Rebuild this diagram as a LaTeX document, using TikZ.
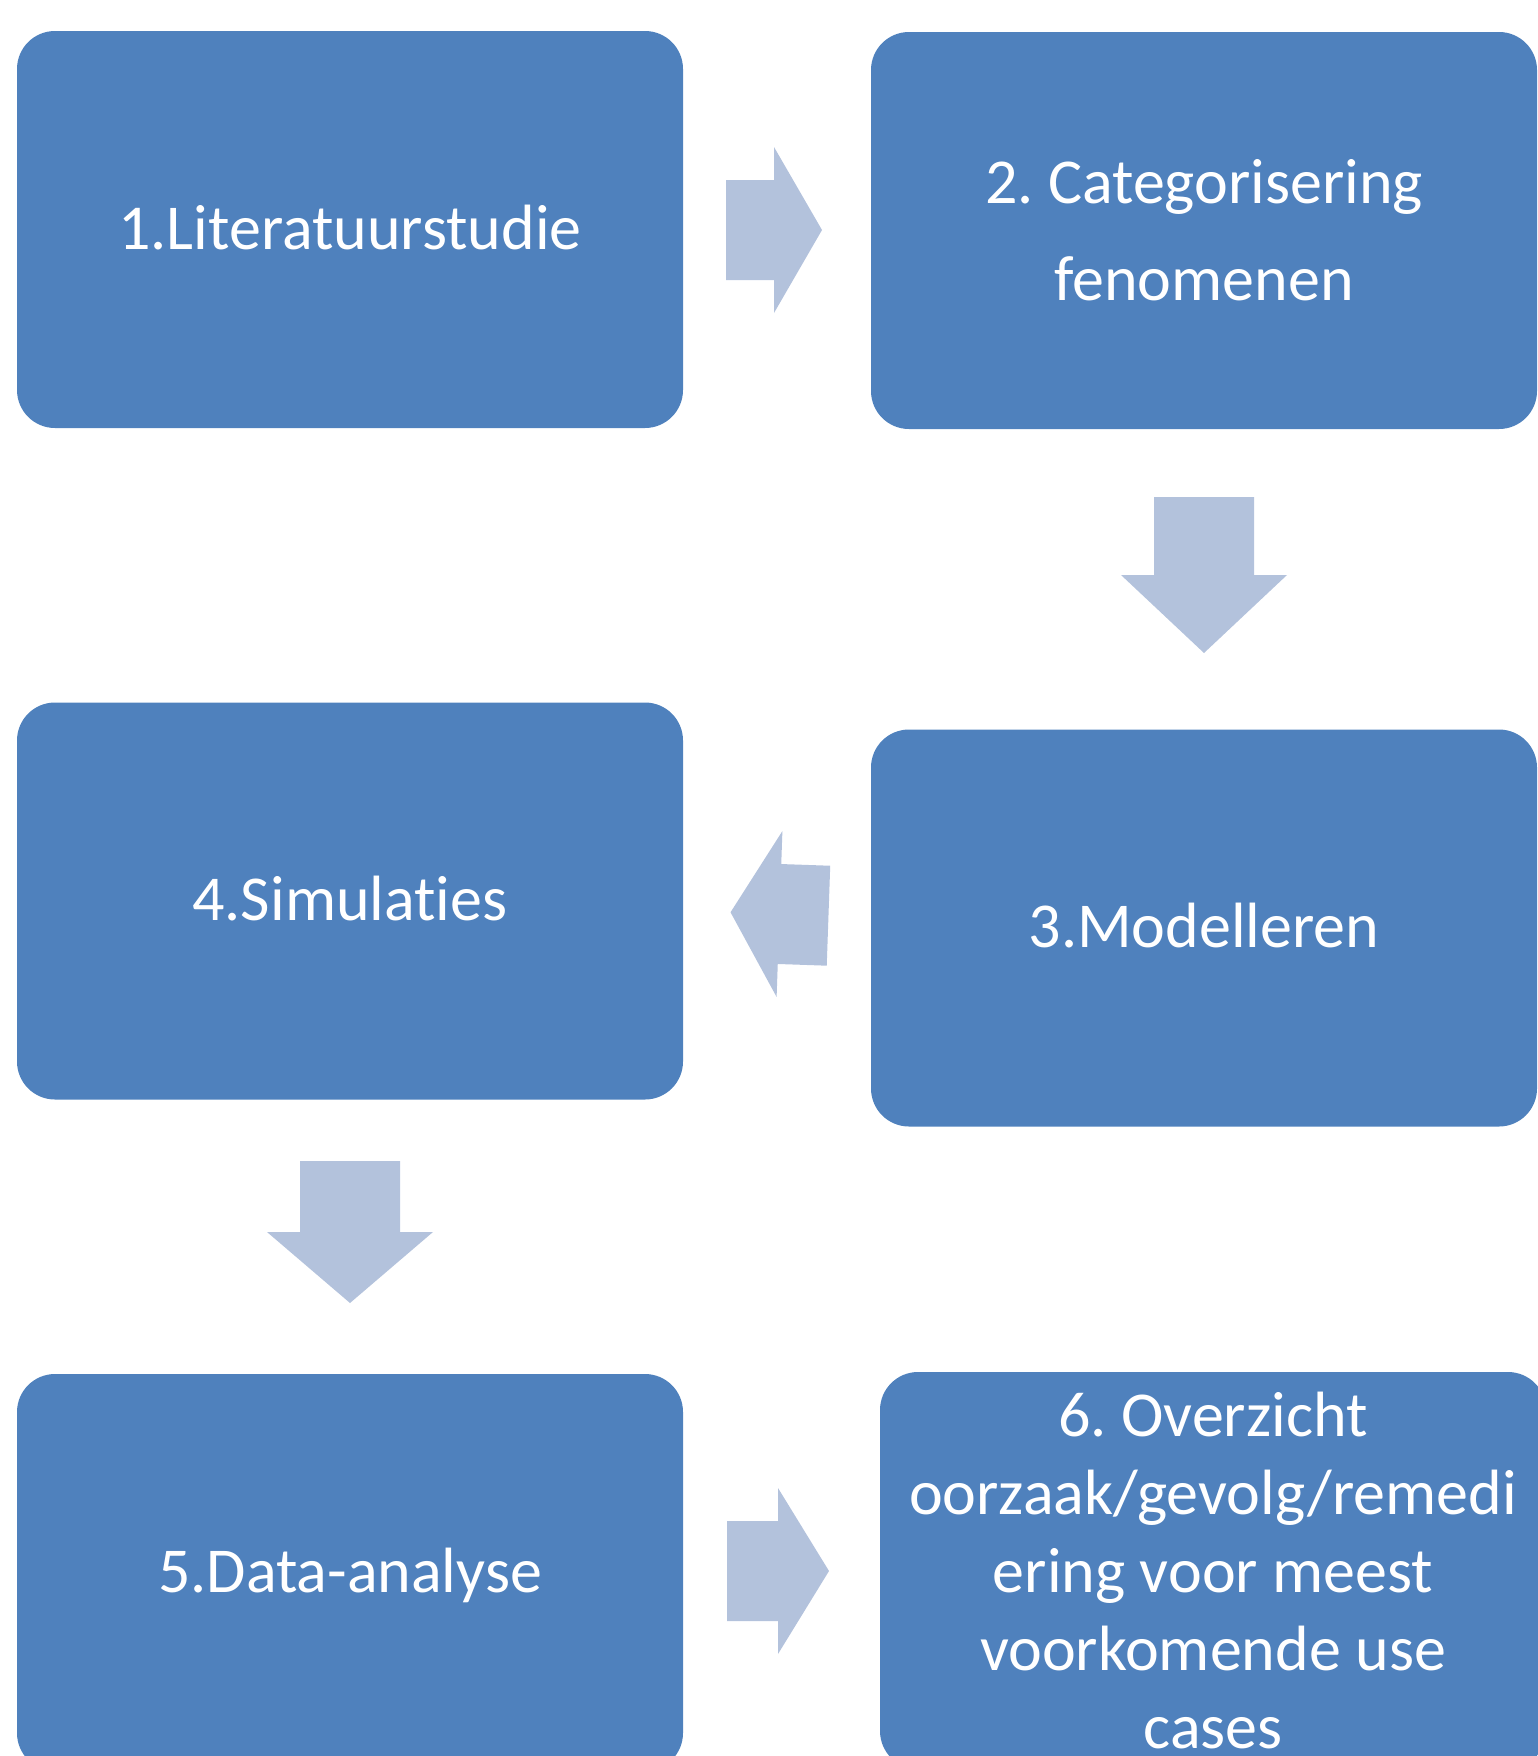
\documentclass[tikz,border=0pt]{standalone}
\usepackage{fontspec}
\setmainfont{Carlito}[Ligatures=NoCommon]
\frenchspacing
\definecolor{boxblue}{RGB}{79,129,189}
\definecolor{arrowblue}{RGB}{179,194,220}
\begin{document}
\begin{tikzpicture}[x=1pt,y=-1pt,
		every node/.style={rectangle,rounded corners=38pt,fill=boxblue,text=white,
			minimum width=666pt,minimum height=397pt,inner sep=0pt,align=center,
			font=\fontsize{64}{78}\selectfont},
		oneline/.style={text height=45pt,text depth=6pt},
		pics/bigarrow/.style={code={
			\fill[arrowblue,sharp corners] (-#1,-50) -- (0,-50) -- (0,-83) -- (#1,0) -- (0,83) -- (0,50) -- (-#1,50) -- cycle;}}]
\useasboundingbox (0,0) rectangle (1537,1756);
% steps
\node[oneline] (lit) at (350,229.5) {1.Literatuurstudie};
\node[font=\fontsize{64}{97}\selectfont] (cat) at (1204,230.5) {2. Categorisering\\fenomenen};
\node[oneline] (mod) at (1204,928) {3.Modelleren};
\node[oneline] (sim) at (350,901) {4.Simulaties};
\node[oneline] (data) at (350,1572.5) {5.Data-analyse};
\node (overz) at (1213,1570.5) {6. Overzicht\\oorzaak/gevolg/remedi\\ering voor meest\\voorkomende use\\cases};
% block arrows
\path (774,230) pic (litcat) {bigarrow=48};
\path (1204,575) pic[rotate=-90] (catmod) {bigarrow=78};
\path (779.5,914) pic[rotate=178] (modsim) {bigarrow=49};
\path (350,1232) pic[rotate=-90] (simdata) {bigarrow=71};
\path (778,1571) pic (dataoverz) {bigarrow=51};
\end{tikzpicture}
\end{document}
